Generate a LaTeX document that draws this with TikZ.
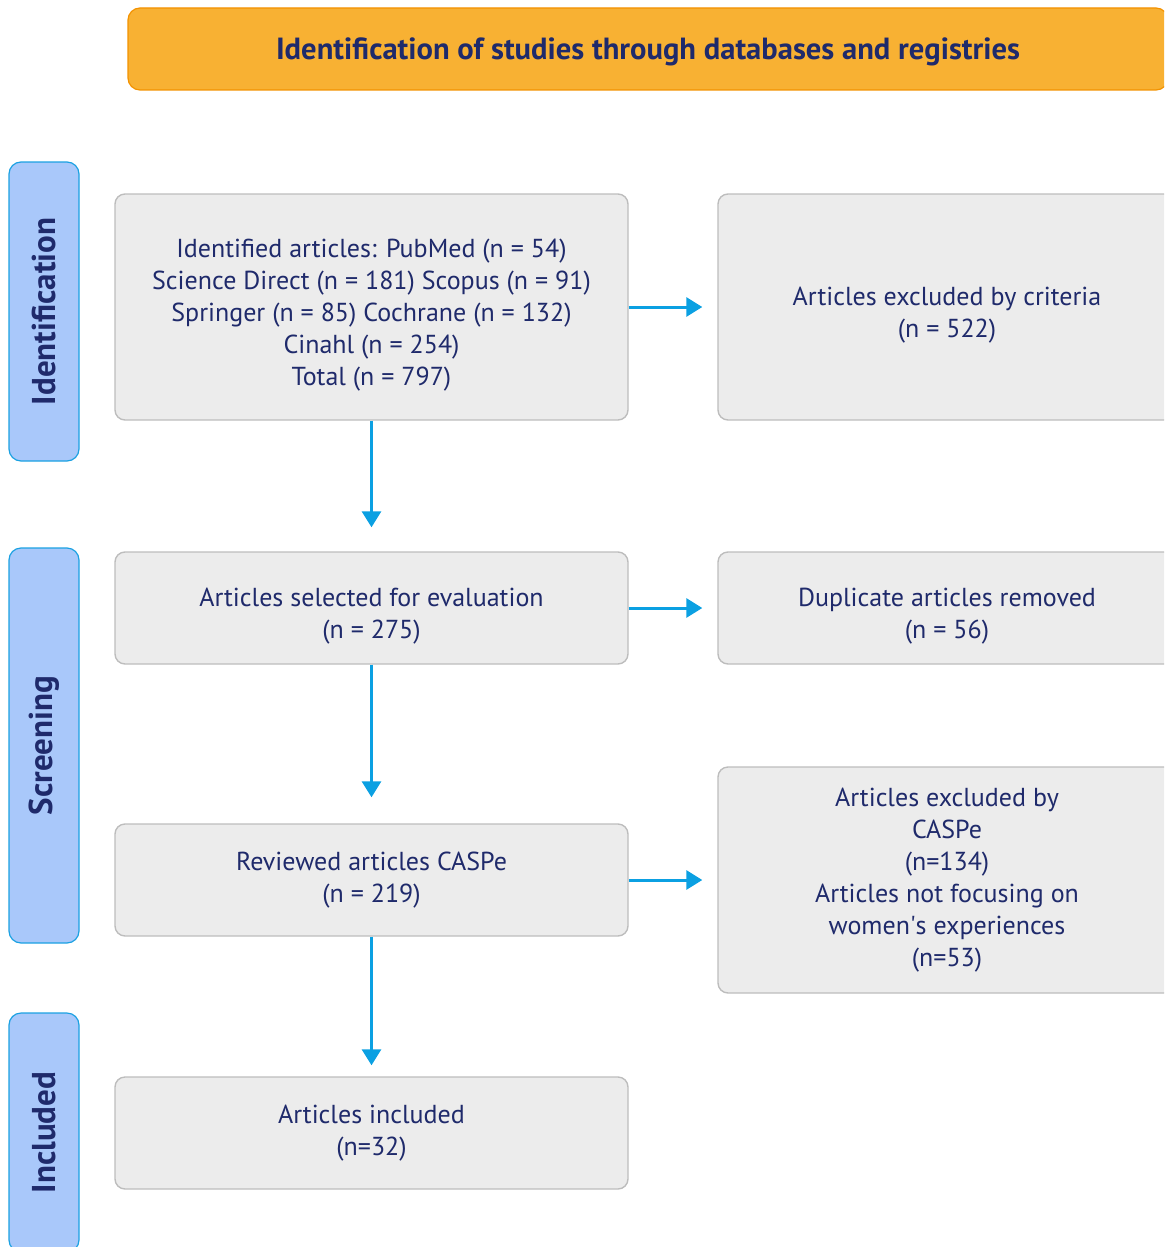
\documentclass[tikz,border=0pt]{standalone}
\usepackage{fontspec}
\setmainfont{PT Sans}
\usetikzlibrary{arrows.meta}
\definecolor{navy}{HTML}{1F2A6B}
\definecolor{boxgray}{HTML}{ECECEC}
\definecolor{edgegray}{HTML}{BDBDBD}
\definecolor{bannerfill}{HTML}{F8B133}
\definecolor{banneredge}{HTML}{F39200}
\definecolor{sidefill}{HTML}{A9C8FA}
\definecolor{sideedge}{HTML}{1BA1E2}
\definecolor{arrowblue}{HTML}{0BA0E2}
\newcommand{\boxstrut}{\rule{0pt}{17.5pt}}

\begin{document}
\begin{tikzpicture}[line cap=round, line join=round, x=0.5pt, y=-0.5pt,
    box/.style={draw=edgegray, fill=boxgray, line width=0.7pt, rounded corners=5pt,
        align=center, text=navy, inner sep=0pt, font=\fontsize{13}{16}\selectfont},
    sidelabel/.style={draw=sideedge, fill=sidefill, line width=0.6pt, rounded corners=6pt,
        text=navy, inner sep=0pt, rotate=90, font=\fontsize{16.5}{18}\selectfont\bfseries},
    flow/.style={draw=arrowblue, line width=1.5pt, line cap=butt, -{Triangle[length=8pt, width=9.5pt]}}]
                \clip (0, 0) rectangle (1164, 1247);
                % banner
                \node[draw=banneredge, fill=bannerfill, line width=0.6pt, rounded corners=6pt,
                    minimum width=520pt, minimum height=41pt, text=navy, inner sep=0pt,
                    font=\fontsize{15.3}{18}\selectfont\bfseries,
                    execute at begin node={\rule{0pt}{14pt}}] (banner) at (648, 49)
                    {Identification of studies through databases and registries};
                % stages
                \node[sidelabel, minimum width=149.5pt, minimum height=35pt] (ident) at (44, 311.5) {Identification};
                \node[sidelabel, minimum width=197.5pt, minimum height=35pt] (screen) at (44, 745.5) {Screening};
                \node[sidelabel, minimum width=119.5pt, minimum height=35pt] (incl) at (44, 1132.5) {Included};
                % left column
                \node[box, minimum width=256.5pt, minimum height=113pt] (found) at (371.5, 307)
                    {\boxstrut Identified articles: PubMed (n = 54)\\Science Direct (n = 181) Scopus (n = 91)\\Springer (n = 85) Cochrane (n = 132)\\Cinahl (n = 254)\\Total (n = 797)};
                \node[box, minimum width=256.5pt, minimum height=56pt] (selected) at (371.5, 608)
                    {\boxstrut Articles selected for evaluation\\(n = 275)};
                \node[box, minimum width=256.5pt, minimum height=56pt] (reviewed) at (371.5, 880)
                    {Reviewed articles CASPe\\(n = 219)};
                \node[box, minimum width=256.5pt, minimum height=56pt] (included) at (371.5, 1133)
                    {Articles included\\(n=32)};
                % right column
                \node[box, minimum width=229pt, minimum height=113pt] (excl) at (947, 307)
                    {\boxstrut Articles excluded by criteria\\(n = 522)};
                \node[box, minimum width=229pt, minimum height=56pt] (dupl) at (947, 608)
                    {\boxstrut Duplicate articles removed\\(n = 56)};
                \node[box, minimum width=229pt, minimum height=113pt] (caspe) at (947, 880)
                    {Articles excluded by\\CASPe\\(n=134)\\Articles not focusing on\\women\textquotesingle s experiences\\(n=53)};
                % arrows
                \draw[flow, shorten >=7.5pt] (found) -- (excl);
                \draw[flow, shorten >=7.5pt] (selected) -- (dupl);
                \draw[flow, shorten >=7.5pt] (reviewed) -- (caspe);
                \draw[flow, shorten >=12pt] (found) -- (selected);
                \draw[flow, shorten >=13pt] (selected) -- (reviewed);
                \draw[flow, shorten >=5.5pt] (reviewed) -- (included);
            \end{tikzpicture}
\end{document}
